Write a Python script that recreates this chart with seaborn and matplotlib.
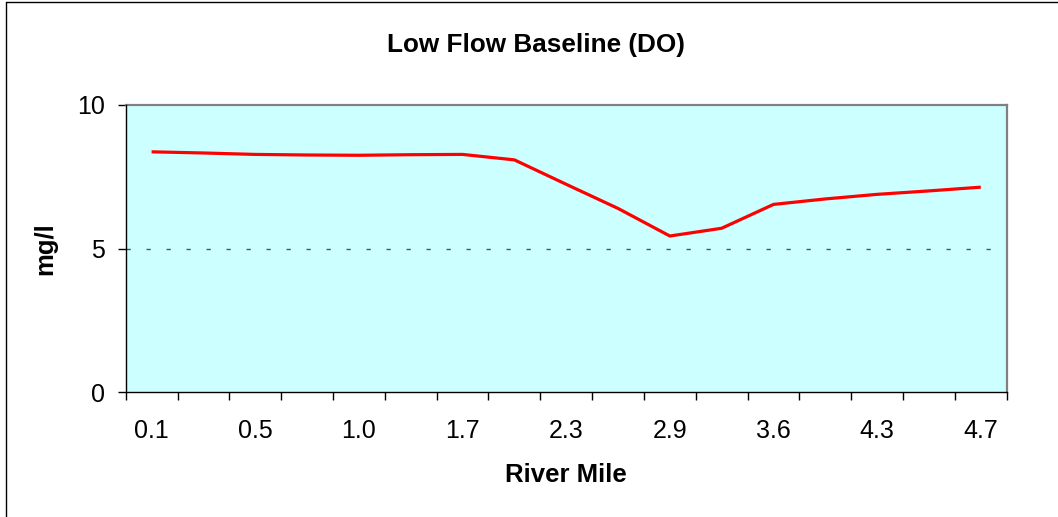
import matplotlib
matplotlib.use("Agg")
import matplotlib.pyplot as plt
from matplotlib.lines import Line2D
import seaborn as sns
import pandas as pd

# ---- data ----
tick_labels = ["0.1", "0.5", "1.0", "1.7", "2.3", "2.9", "3.6", "4.3", "4.7"]
do_values = [8.37, 8.33, 8.28, 8.26, 8.25, 8.27, 8.28, 8.09, 7.24,
             6.40, 5.44, 5.71, 6.54, 6.73, 6.89, 7.01, 7.14]
segment_index = list(range(len(do_values)))
standard_do = 5

sns.set_theme(style="white")
plt.rcParams["font.family"] = ["Liberation Sans", "DejaVu Sans"]

df = pd.DataFrame({"seg": segment_index, "do": do_values})

fig = plt.figure(figsize=(10.58, 5.17), dpi=100)
W, H = 1058, 517
left, right, top, bottom = 125.7, 1006.7, 105.0, 392.3
ax = fig.add_axes([left / W, 1 - bottom / H, (right - left) / W, (bottom - top) / H])
ax.set_facecolor("#CCFFFF")

ax.axhline(standard_do, color="#555555", lw=1.0, ls=(0, (3.1, 11.3)), zorder=1)

sns.lineplot(data=df, x="seg", y="do", ax=ax, color="#FF0000", lw=2.3,
             solid_joinstyle="round", solid_capstyle="butt", zorder=3)

n = len(do_values)
ax.set_xlim(-0.5, n - 0.5)
ax.set_ylim(0, 10)

# x ticks: marks at category boundaries, labels at every other category
ax.set_xticks([i - 0.5 for i in range(n + 1)])
ax.set_xticklabels([])
ax.set_xticks(list(range(0, n, 2)), minor=True)
ax.set_xticklabels(tick_labels, minor=True)
ax.tick_params(axis="x", which="major", direction="out", length=5.5, width=1,
               color="black", bottom=True)
ax.tick_params(axis="x", which="minor", length=0, pad=19, labelsize=18,
               labelcolor="black", bottom=True)

ax.set_yticks([0, 5, 10])
ax.set_yticklabels(["0", "5", "10"])
ax.tick_params(axis="y", direction="out", length=5.5, width=1, color="black",
               pad=9.5, labelsize=18, labelcolor="black", left=True)

for s in ["left", "bottom"]:
    ax.spines[s].set_color("black")
    ax.spines[s].set_linewidth(1.0)
for s in ["top", "right"]:
    ax.spines[s].set_color("#808080")
    ax.spines[s].set_linewidth(1.6)
for s in ax.spines.values():
    s.set_visible(True)
ax.spines["left"].set_zorder(5)
ax.spines["bottom"].set_zorder(5)

ax.set_xlabel("River Mile", fontsize=18.5, fontweight="bold", color="black")
ax.xaxis.label.set_va("baseline")
ax.xaxis.set_label_coords(0.5, (bottom - 482) / (bottom - top))
ax.set_ylabel("mg/l", fontsize=18.5, fontweight="bold", color="black")
ax.yaxis.label.set_va("center")
ax.yaxis.set_label_coords((45 - left) / (right - left), 0.5)

fig.text(536 / W, 1 - 52.3 / H, "Low Flow Baseline (DO)", ha="center",
         va="baseline", fontsize=18.8, fontweight="bold", color="black")

# chart-area border (top and left edges visible)
fig.add_artist(Line2D([6 / W, 1], [1 - 2 / H, 1 - 2 / H], color="black", lw=1.0,
                      transform=fig.transFigure))
fig.add_artist(Line2D([6 / W, 6 / W], [0, 1 - 2 / H], color="black", lw=1.0,
                      transform=fig.transFigure))

fig.savefig("out.png", dpi=100, facecolor="white")
